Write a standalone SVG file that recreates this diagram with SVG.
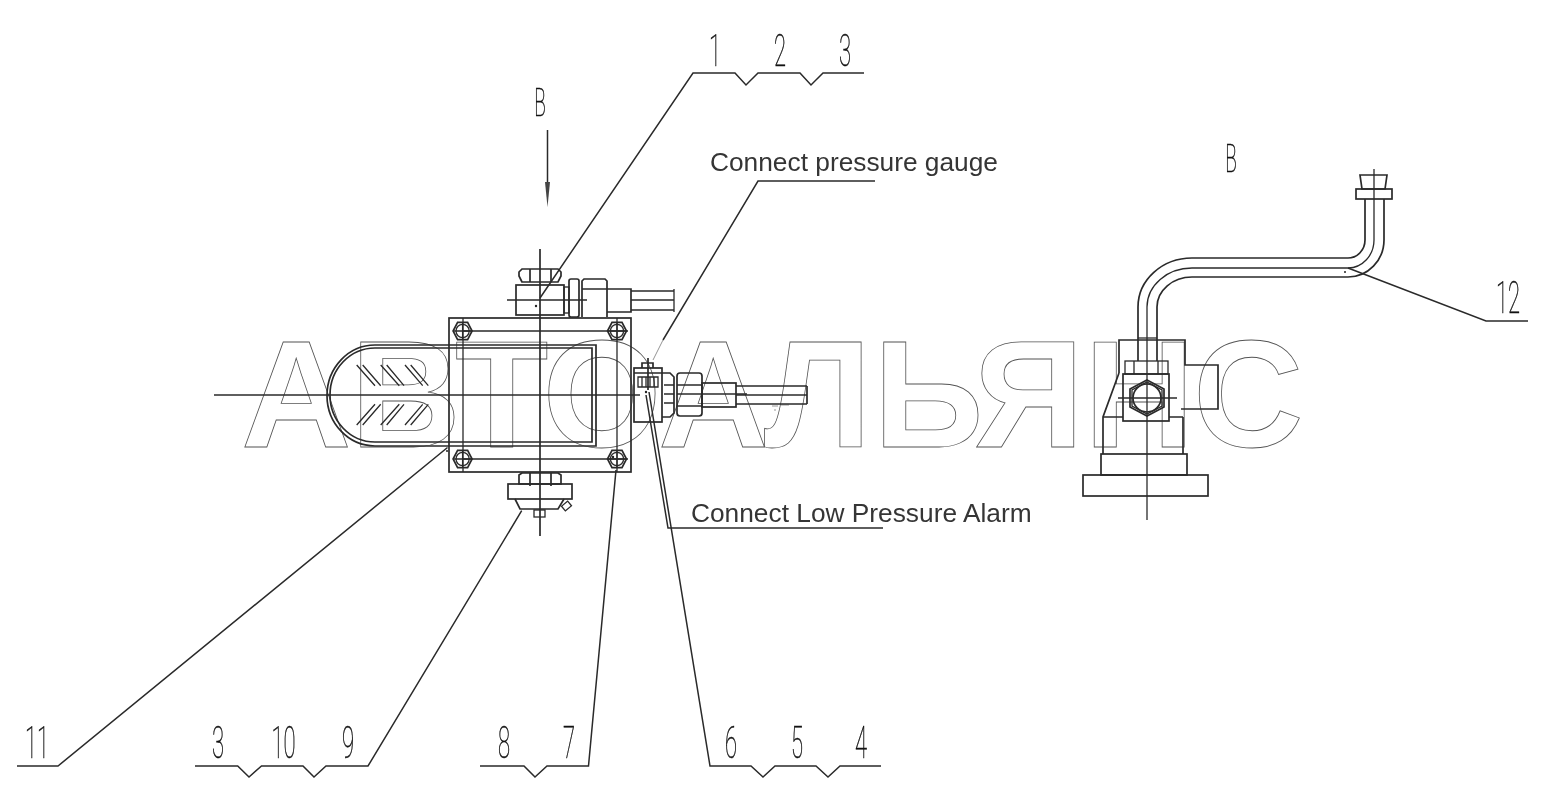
<svg xmlns="http://www.w3.org/2000/svg" xmlns:xlink="http://www.w3.org/1999/xlink" width="1565" height="809" viewBox="0 0 1565 809">
<style>
.wm{font-family:"Liberation Sans",Arial,sans-serif;font-weight:700;font-size:153px;fill:none;stroke:#555;stroke-width:.8}
.l{fill:none;stroke:#2a2a2a;stroke-width:1.7}
.m{fill:none;stroke:#2a2a2a;stroke-width:1.3}
.t{fill:none;stroke:#666;stroke-width:.7}
.lead{fill:none;stroke:#2a2a2a;stroke-width:1.5}
.num{font-family:Roboto,"Liberation Sans",sans-serif;font-weight:100;fill:#111;stroke:#111;stroke-width:.55;text-anchor:middle;font-size:44px}
.note{font-family:"Liberation Sans",Arial,sans-serif;fill:#333;font-size:26.3px}
</style>
<defs>
<g id="bolt"><polygon class="l" points="-9.5,0 -5,-8.7 5,-8.7 9.5,0 5,8.7 -5,8.7"/><circle class="m" r="6.6"/><path class="m" d="M-9.5 0H9.5M0-8.7V8.7"/></g>
</defs>
<rect width="1565" height="809" fill="#fff"/>
<text id="watermark" class="wm" y="447" x="241 350.500 455 542.500 658 764 873.500 974 1084 1193">АВТОАЛЬЯНС</text>
<path d="M772 406h6M781 405h8M774 410h2" stroke="#bbb" stroke-width="1.400" fill="none"/>
<g id="front-view">
<g id="tank">
<path class="l" d="M596 345H375A48 50.500 0 0 0 375 446H596Z"/>
<path class="l" d="M592 348H375A45 47 0 0 0 375 442H592Z"/>
<path class="m" d="M356.700 365L375 385.700M362.700 365L380.700 385.700M380.700 365L399.300 385.700M386.700 365L404 385.700M405 365L422.700 385.700M410.700 365L428.300 385.700M356.700 425L375 404.300M362.700 425L380.700 404.300M380.700 425L399.300 404.300M386.700 425L404 404.300M405 425L422.700 404.300M410.700 425L428.300 404.300"/>
</g>
<g id="plate">
<rect class="l" x="449" y="318" width="182" height="154"/>
<path class="m" d="M462 331H628M462 459H628M463 318V472M617 318V472"/>
<use xlink:href="#bolt" href="#bolt" x="462.600" y="331"/>
<use xlink:href="#bolt" href="#bolt" x="617" y="331"/>
<use xlink:href="#bolt" href="#bolt" x="462.600" y="459"/>
<use xlink:href="#bolt" href="#bolt" x="617" y="459"/>
</g>
<g id="top-fitting">
<path class="l" d="M522 282L519 276V272L522 269H558L561 272V276L558 282ZM530 269V282M551 269V282"/>
<rect class="l" x="516" y="285" width="48" height="30"/>
<rect class="m" x="564" y="287" width="5" height="26"/>
<rect class="l" x="569" y="279" width="10" height="38" rx="2"/>
<path class="l" d="M582 317V281L584 279H605L607 281V317M582 289H607"/>
<path class="l" d="M607 289H631V312H607M631 291H674M631 310H674"/>
<path class="m" d="M631 300H674M507 300H587M674 289V312"/>
</g>
<g id="bottom-fitting">
<path class="l" d="M522 473L519 475V484H561V475L558 473ZM530 473V486M551 473V486"/>
<rect class="l" x="508" y="484" width="64" height="15"/>
<path class="l" d="M515 499L520 509H558L564 499"/>
<rect class="m" x="534" y="510" width="11" height="7"/>
<rect class="m" x="562.500" y="503" width="8" height="6" transform="rotate(-40 566.500 506)"/>
</g>
<g id="side-fitting">
<rect class="l" x="634" y="368" width="28" height="54"/>
<path class="l" d="M634 373H662M642 368V363H653V368"/>
<path class="m" d="M638 377H658V387H638ZM642 377V387M646 377V387M650 377V387M654 377V387"/>
<path class="l" d="M648 358V390"/>
<path class="l" d="M662 373H670L674 377V413L670 417H662"/>
<path class="m" d="M664 385H674M664 394H674M664 403H674"/>
<rect class="l" x="677" y="373" width="25" height="43" rx="3"/>
<path class="m" d="M677 385H702M677 406H702"/>
<rect class="l" x="702" y="383" width="34" height="24"/>
<path class="l" d="M736 386H807M736 404H807M807 386V404"/>
<path class="m" d="M736 395H807"/>
<path class="l" d="M677 394H747"/>
</g>
<path class="m" d="M214 395H640"/>
<path class="l" d="M540 249V536"/>
<circle cx="536" cy="306" r="1.200" fill="#222"/>
<circle cx="613" cy="457" r="1.200" fill="#222"/>
<circle cx="447" cy="451" r="1" fill="#222"/>
<circle cx="646" cy="392" r="1.200" fill="#222"/>
</g>
<g id="view-b">
<path class="l" d="M1119 373V340H1185V365H1218V409H1181"/>
<path class="l" d="M1119 373L1103 417V454M1183 417V454"/>
<path class="m" d="M1103 417H1123M1169 417H1183"/>
<rect class="l" x="1101" y="454" width="86" height="21"/>
<rect class="l" x="1083" y="475" width="125" height="21"/>
<rect class="m" x="1125" y="361" width="43" height="13"/>
<path class="m" d="M1134 361V374M1158 361V374"/>
<rect class="l" x="1123" y="374" width="46" height="47"/>
<polygon class="l" points="1147,380 1164,389 1164,407 1147,416 1130,407 1130,389"/>
<polygon class="m" points="1147,382 1162,390 1162,406 1147,414 1132,406 1132,390"/>
<circle class="l" cx="1147" cy="398" r="14"/>
<path class="l" d="M1118 398H1177"/>
<path class="m" d="M1147 338V520"/>
<path class="l" d="M1138 361V307A54 49 0 0 1 1192 258H1348A17 18 0 0 0 1365 240V199"/>
<path class="l" d="M1157 361V307A35 30 0 0 1 1192 277H1348A36 37 0 0 0 1384 240V199"/>
<path class="m" d="M1147 338V307A45 39 0 0 1 1192 268H1348A26 28 0 0 0 1374 240V169"/>
<path class="m" d="M1138 338H1157"/>
<path class="l" d="M1360 175H1387L1385 189H1362Z"/>
<rect class="l" x="1356" y="189" width="36" height="10"/>
<circle cx="1345" cy="272" r="1" fill="#222"/>
</g>
<g id="connectors">
<path class="lead" d="M540 298L693 73H735L746 85L758 73H800L811 85L823 73H864"/>
<path class="lead" d="M663 340L758 181H875"/>
<path class="t" d="M653 360L663 340"/>
<path class="lead" d="M447.500 447.500L58 766H17"/>
<path class="lead" d="M521.700 510.700L368 766H326L314 777L303 766H261.500L249 777L237.700 766H195"/>
<path class="lead" d="M616 470L588.500 766H547L535 777L524 766H480"/>
<path class="lead" d="M649 392L710 766H751L763 777L775 766H816L828 777L840 766H881"/>
<path class="lead" d="M646 395L668 528H883"/>
<path class="lead" d="M1348 268L1486 321H1528"/>
<path class="lead" d="M547.500 130V190"/>
<polygon points="545,182 550,182 547.500,207" fill="#444"/>
</g>
<g id="labels" opacity=".99">
<text class="num" transform="translate(715 66) scale(.5 1)">1</text>
<text class="num" transform="translate(780 66) scale(.5 1)">2</text>
<text class="num" transform="translate(845 66) scale(.5 1)">3</text>
<text class="num" transform="translate(37 758) scale(.5 1)">11</text>
<text class="num" transform="translate(218 758) scale(.5 1)">3</text>
<text class="num" transform="translate(283.500 758) scale(.5 1)">10</text>
<text class="num" transform="translate(348 758) scale(.5 1)">9</text>
<text class="num" transform="translate(504 758) scale(.5 1)">8</text>
<text class="num" transform="translate(569 758) scale(.5 1)">7</text>
<text class="num" transform="translate(731 758) scale(.5 1)">6</text>
<text class="num" transform="translate(797 758) scale(.5 1)">5</text>
<text class="num" transform="translate(861 758) scale(.5 1)">4</text>
<text class="num" transform="translate(1508 313) scale(.5 1)">12</text>
<text class="num" style="font-size:38px" transform="translate(540 116) scale(.5 1)">B</text>
<text class="num" style="font-size:38px" transform="translate(1231 172) scale(.5 1)">B</text>
<text class="note" x="710" y="171">Connect pressure gauge</text>
<text class="note" x="691" y="522">Connect Low Pressure Alarm</text>
</g>
</svg>
